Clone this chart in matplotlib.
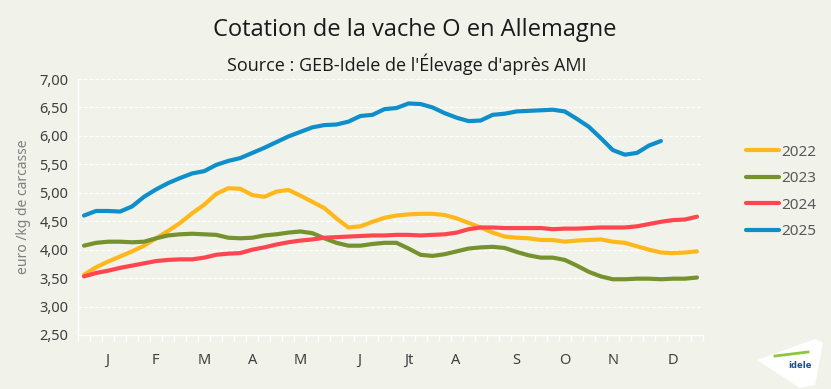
import matplotlib
matplotlib.use("Agg")
import matplotlib.pyplot as plt
from matplotlib.patches import Polygon
import numpy as np

weeks = list(range(52))
y2022 = [3.56, 3.69, 3.79, 3.88, 3.97, 4.07, 4.20, 4.33, 4.47, 4.64, 4.79, 4.98, 5.08,
         5.07, 4.96, 4.93, 5.02, 5.05, 4.95, 4.84, 4.73, 4.55, 4.39, 4.41, 4.49, 4.56,
         4.60, 4.62, 4.63, 4.63, 4.61, 4.55, 4.47, 4.39, 4.30, 4.23, 4.21, 4.20, 4.17,
         4.17, 4.14, 4.16, 4.17, 4.18, 4.14, 4.12, 4.06, 4.00, 3.95, 3.94, 3.95, 3.97]
y2023 = [4.07, 4.12, 4.14, 4.14, 4.13, 4.14, 4.20, 4.25, 4.27, 4.28, 4.27, 4.26, 4.21,
         4.20, 4.21, 4.25, 4.27, 4.30, 4.32, 4.29, 4.20, 4.12, 4.07, 4.07, 4.10, 4.12,
         4.12, 4.02, 3.91, 3.89, 3.92, 3.97, 4.02, 4.04, 4.05, 4.03, 3.96, 3.90, 3.86,
         3.86, 3.82, 3.72, 3.61, 3.53, 3.48, 3.48, 3.49, 3.49, 3.48, 3.49, 3.49, 3.51]
y2024 = [3.53, 3.59, 3.63, 3.68, 3.72, 3.76, 3.80, 3.82, 3.83, 3.83, 3.86, 3.91, 3.93,
         3.94, 4.00, 4.04, 4.09, 4.13, 4.16, 4.18, 4.21, 4.22, 4.23, 4.24, 4.25, 4.25,
         4.26, 4.26, 4.25, 4.26, 4.27, 4.30, 4.36, 4.39, 4.39, 4.38, 4.38, 4.38, 4.38,
         4.36, 4.37, 4.37, 4.38, 4.39, 4.39, 4.39, 4.41, 4.45, 4.49, 4.52, 4.53, 4.58]
y2025 = [4.60, 4.68, 4.68, 4.67, 4.76, 4.93, 5.06, 5.17, 5.26, 5.34, 5.38, 5.49, 5.56,
         5.61, 5.70, 5.79, 5.89, 5.99, 6.07, 6.15, 6.19, 6.20, 6.25, 6.35, 6.37, 6.47,
         6.49, 6.57, 6.56, 6.50, 6.40, 6.32, 6.26, 6.27, 6.37, 6.39, 6.43, 6.44, 6.45,
         6.46, 6.43, 6.30, 6.16, 5.96, 5.75, 5.67, 5.70, 5.83, 5.91]

month_labels = ["J", "F", "M", "A", "M", "J", "Jt", "A", "S", "O", "N", "D"]
month_pos = [1.9, 5.9, 10.0, 14.0, 18.0, 22.9, 27.0, 30.9, 36.0, 40.0, 44.0, 49.0]
yticks = [2.5, 3.0, 3.5, 4.0, 4.5, 5.0, 5.5, 6.0, 6.5, 7.0]

series = [("2022", y2022, "#FFB81C"), ("2023", y2023, "#76922E"),
          ("2024", y2024, "#FF4650"), ("2025", y2025, "#0E8FCB")]

bg = "#F1F2EA"
fig = plt.figure(figsize=(8.31, 3.89), dpi=100, facecolor=bg)
ax = fig.add_axes([78/831, 1-335/389, (703-78)/831, (335-79)/389], facecolor=bg)

for name, vals, col in series:
    x = np.arange(len(vals))
    ax.plot(x, vals, color=col, lw=3.0, solid_capstyle="round", solid_joinstyle="round",
            label=name, zorder=3)

ax.set_xlim(-0.5, 51.5)
ax.set_ylim(2.5, 7.0)
ax.set_yticks(yticks)
ax.set_yticklabels([f"{v:.2f}".replace(".", ",") for v in yticks],
                   fontsize=10.5, color="#3F3F3F", family="Noto Sans")
ax.tick_params(axis="y", length=0, pad=7)
for v in yticks[1:]:
    ax.axhline(v, color="white", lw=0.9, ls=(0, (3, 1.5)), zorder=1)

# weekly boundary ticks
ax.set_xticks(np.arange(-0.5, 52, 1.0), minor=True)
ax.set_xticks([])
ax.tick_params(axis="x", which="minor", length=4, color="white", width=1)
for m, p in zip(month_labels, month_pos):
    ax.text(p, -0.10, m, transform=ax.get_xaxis_transform(), ha="center", va="center",
            fontsize=10.5, color="#3F3F3F", family="Noto Sans")

for s in ["top", "right"]:
    ax.spines[s].set_visible(False)
ax.spines["left"].set_color("white")
ax.spines["bottom"].set_color("white")
ax.spines["left"].set_linewidth(1)
ax.spines["bottom"].set_linewidth(1)

ax.set_ylabel("euro /kg de carcasse", fontsize=10, color="#7F7F7F", family="Noto Sans",
              labelpad=6)

fig.text(415/831, 1-30/389, "Cotation de la vache O en Allemagne", ha="center", va="center",
         fontsize=17, color="#1A1A1A", family="Open Sans")
fig.text(407/831, 1-64/389, "Source : GEB-Idele de l'Élevage d'après AMI", ha="center",
         va="center", fontsize=13, color="#1A1A1A", family="Open Sans")

leg = ax.legend(loc="upper left", bbox_to_anchor=(732/831, 1-131/389),
                bbox_transform=fig.transFigure, frameon=False, handlelength=2.2,
                handletextpad=0.15, labelspacing=0.75,
                prop={"family": "Noto Sans", "size": 11})
for t in leg.get_texts():
    t.set_color("#595959")

# logo badge
logo = Polygon([[757/831, 1-360/389], [815/831, 1-339/389], [823/831, 1-343/389],
                [815/831, 1-385/389], [800/831, 1-388/389]], closed=True,
               transform=fig.transFigure, facecolor="white", edgecolor="none")
fig.add_artist(logo)
fig.text(800/831, 1-366/389, "idele", transform=fig.transFigure, ha="center", va="center",
         fontsize=6, color="#1F4E9C", weight="bold", family="DejaVu Sans")
fig.add_artist(plt.Line2D([775/831, 808/831], [1-356/389, 1-352/389],
                          transform=fig.transFigure, color="#8DC63F", lw=2))

fig.savefig("out.png", dpi=100, facecolor=bg)
